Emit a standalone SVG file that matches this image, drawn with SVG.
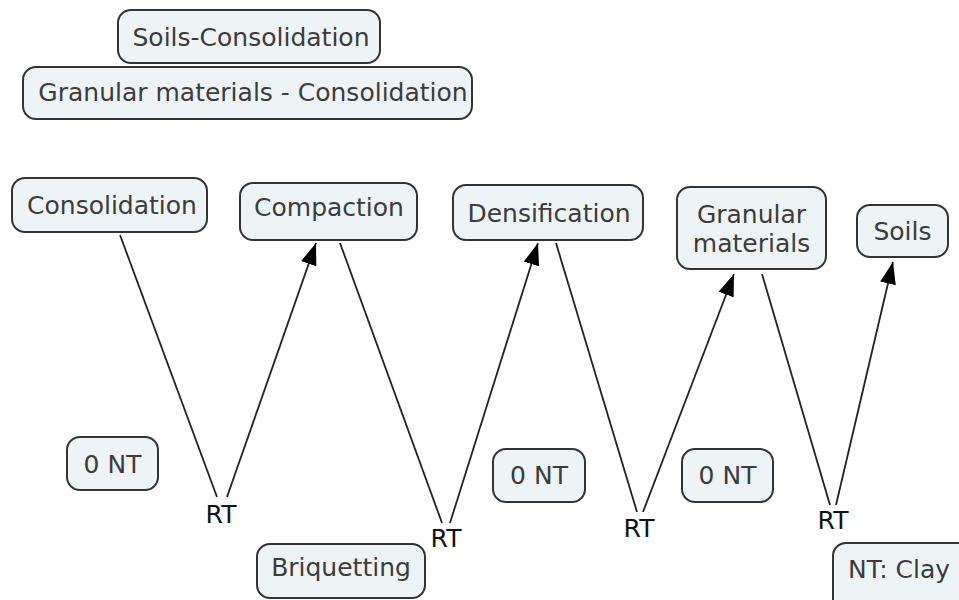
<svg xmlns="http://www.w3.org/2000/svg" width="959" height="600" viewBox="0 0 959 600">
<style>
.n rect{fill:#eef3f6;stroke:#333;stroke-width:2}
.n text{font-family:"DejaVu Sans",Verdana,sans-serif;font-size:25px;fill:#3c3c3c;text-anchor:middle}
.c line{stroke:#222;stroke-width:1.8}
.lbl{font-family:"DejaVu Sans",Verdana,sans-serif;font-size:25px;fill:#111;text-anchor:middle}
</style>
<defs>
<marker id="ah" viewBox="0 0 22 16" refX="22" refY="8" markerWidth="22" markerHeight="16" markerUnits="userSpaceOnUse" orient="auto">
<path d="M0,0 L22,8 L0,16 Z" fill="#000"/>
</marker>
</defs>
<rect width="959" height="600" fill="#fff"/>
<g class="c">
<line x1="120" y1="235" x2="217" y2="497"/>
<line x1="227" y1="497" x2="316" y2="243" marker-end="url(#ah)"/>
<line x1="340" y1="243" x2="442" y2="523"/>
<line x1="450" y1="523" x2="538" y2="243" marker-end="url(#ah)"/>
<line x1="556" y1="243" x2="637" y2="512"/>
<line x1="643" y1="512" x2="734" y2="274" marker-end="url(#ah)"/>
<line x1="762" y1="274" x2="830" y2="505"/>
<line x1="836" y1="505" x2="893" y2="262" marker-end="url(#ah)"/>
</g>
<g id="rt1"><text class="lbl" x="221" y="523">RT</text></g>
<g id="rt2"><text class="lbl" x="446" y="547">RT</text></g>
<g id="rt3"><text class="lbl" x="639" y="537">RT</text></g>
<g id="rt4"><text class="lbl" x="833" y="529">RT</text></g>
<g id="soils-consolidation" class="n"><rect x="118" y="10" width="262" height="53" rx="13"/><text x="251" y="46">Soils-Consolidation</text></g>
<g id="granular-consolidation" class="n"><rect x="23" y="67" width="449" height="52" rx="13"/><text x="253" y="101">Granular materials - Consolidation</text></g>
<g id="consolidation" class="n"><rect x="12" y="178" width="195" height="54" rx="13"/><text x="112" y="214">Consolidation</text></g>
<g id="compaction" class="n"><rect x="240" y="183" width="177" height="57" rx="13"/><text x="329" y="216">Compaction</text></g>
<g id="densification" class="n"><rect x="453" y="185" width="190" height="55" rx="13"/><text x="549" y="222">Densification</text></g>
<g id="granular" class="n"><rect x="677" y="187" width="149" height="82" rx="13"/><text x="751.5" y="223">Granular</text><text x="751.5" y="252">materials</text></g>
<g id="soils" class="n"><rect x="857" y="205" width="91" height="52" rx="13"/><text x="902.5" y="240">Soils</text></g>
<g id="nt1" class="n"><rect x="67" y="437" width="91" height="53" rx="13"/><text x="112.5" y="473">0 NT</text></g>
<g id="briquetting" class="n"><rect x="257" y="544" width="168" height="54" rx="13"/><text x="341" y="576">Briquetting</text></g>
<g id="nt2" class="n"><rect x="493" y="449" width="92" height="53" rx="13"/><text x="539" y="484">0 NT</text></g>
<g id="nt3" class="n"><rect x="682" y="449" width="91" height="53" rx="13"/><text x="727.5" y="484">0 NT</text></g>
<g id="ntclay" class="n"><rect x="833" y="543" width="150" height="70" rx="13"/><text x="848" y="578" style="text-anchor:start">NT: Clay</text></g>
</svg>
